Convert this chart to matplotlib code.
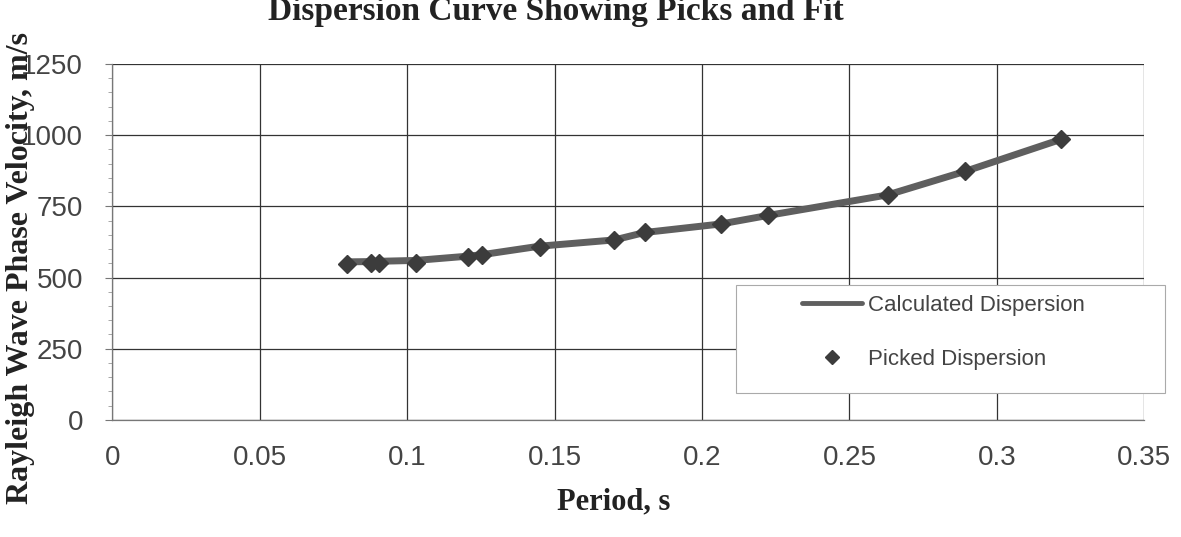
# Dispersion curve: picked vs calculated Rayleigh wave phase velocity

import matplotlib.pyplot as plt
from matplotlib.patches import Rectangle

period = [0.0795, 0.0876, 0.0903, 0.103, 0.1206, 0.1253, 0.1449, 0.1703,
          0.1805, 0.2064, 0.2224, 0.2629, 0.2893, 0.3217]          # [s]
picked = [548, 550, 550, 552, 572, 578, 608, 632,
          659, 688, 719, 791, 875, 988]                             # [m/s]
calculated = [555, 556, 557, 560, 575, 580, 610, 632,
              658, 688, 718, 790, 873, 985]                         # [m/s]

x_ticks = [0, 0.05, 0.1, 0.15, 0.2, 0.25, 0.3, 0.35]
x_tick_labels = ['0', '0.05', '0.1', '0.15', '0.2', '0.25', '0.3', '0.35']
y_ticks = [0, 250, 500, 750, 1000, 1250]

serif = 'Liberation Serif'
sans = 'Liberation Sans'

fig = plt.figure(figsize=(11.81, 5.37), dpi=100, facecolor='white')
ax = fig.add_axes([0.095, 0.218, 0.874, 0.663])

ax.plot(period, calculated, color='#5f5f5f', lw=5, solid_capstyle='round',
        label='Calculated Dispersion', zorder=3)
ax.plot(period, picked, linestyle='none', marker='D', markersize=9,
        color='#3c3c3c', label='Picked Dispersion', zorder=4)

ax.set_xlim(0, 0.35)
ax.set_ylim(0, 1250)
ax.set_xticks(x_ticks)
ax.set_xticklabels(x_tick_labels)
ax.set_yticks(y_ticks)
ax.set_yticks(range(0, 1251, 50), minor=True)
ax.grid(True, which='major', color='#333333', lw=0.9)

for lab in ax.get_xticklabels() + ax.get_yticklabels():
    lab.set_fontfamily(sans)
    lab.set_fontsize(20)
    lab.set_color('#444444')
ax.tick_params(axis='x', length=0, pad=18)
ax.tick_params(axis='y', which='major', length=5, pad=16, color='#777777')
ax.tick_params(axis='y', which='minor', length=3, color='#999999')

for s in ['top', 'right']:
    ax.spines[s].set_visible(False)
for s in ['left', 'bottom']:
    ax.spines[s].set_color('#777777')
    ax.spines[s].set_linewidth(0.9)

# legend frame drawn separately (Excel style, wide padding)
ax.add_patch(Rectangle((0.604, 0.076), 0.416, 0.303, transform=ax.transAxes,
                       facecolor='white', edgecolor='#aaaaaa', lw=0.8,
                       clip_on=False, zorder=5))
leg = ax.legend(loc='upper left', bbox_to_anchor=(0.668, 0.352),
                prop={'family': sans, 'size': 16}, frameon=False,
                handlelength=2.7, borderpad=0, labelspacing=1.5,
                handletextpad=0.3, borderaxespad=0, markerscale=0.75)
leg.set_zorder(6)
leg.get_lines()[0].set_linewidth(3.5)
for t in leg.get_texts():
    t.set_color('#444444')

fig.text(0.227, 0.963, 'Dispersion Curve Showing Picks and Fit',
         family=serif, weight='bold', fontsize=24, color='#222222',
         ha='left', va='baseline')
fig.text(0.017, 0.5, 'Rayleigh Wave Phase Velocity, m/s', family=serif,
         weight='bold', fontsize=23, color='#222222', rotation=90,
         ha='center', va='center')
fig.text(0.52, 0.065, 'Period, s', family=serif, weight='bold', fontsize=22,
         color='#222222', ha='center', va='center')

plt.savefig('out.png', dpi=100, facecolor='white')
